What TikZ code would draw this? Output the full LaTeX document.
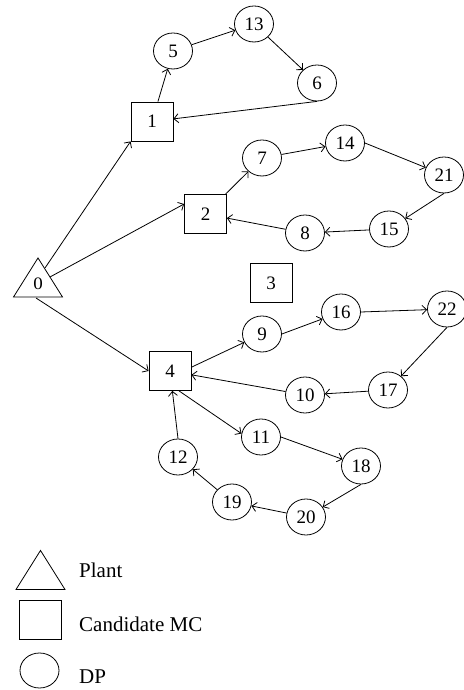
\documentclass[tikz,border=0pt]{standalone}
\usepackage{fontspec}
\setmainfont{Liberation Serif}
\usetikzlibrary{shapes.geometric,arrows.meta}
\tikzset{
  base/.style={draw, line width=0.8pt, inner sep=0pt, font=\fontsize{19}{19}\selectfont},
  dp/.style={base, ellipse, minimum width=39pt, minimum height=36pt},
  mc/.style={base, rectangle, minimum width=42pt, minimum height=39pt},
  plant/.style={base, regular polygon, regular polygon sides=3, minimum size=56.6pt, transform shape, yscale=0.92},
  arr/.style={line width=0.8pt, -{Straight Barb[length=4.5pt,width=9pt,line width=0.8pt]}},
  legtext/.style={anchor=base west, inner sep=0pt, font=\fontsize{21}{21}\selectfont}
}
\begin{document}
\begin{tikzpicture}[x=1pt,y=1pt]
\useasboundingbox (0,0) rectangle (463,690);
% plant
\begin{scope}[shift={(38,406)}]
  \node[plant] (t0) at (0,0) {0};
\end{scope}
% candidate MCs
\node[mc] (s1) at (152,568.5) {1};
\node[mc] (s2) at (205.5,476) {2};
\node[mc] (s3) at (271,407) {3};
\node[mc] (s4) at (170,319) {4};
% DPs
\node[dp] (c5)  at (173,639) {5};
\node[dp] (c13) at (254,666) {13};
\node[dp] (c6)  at (317,607) {6};
\node[dp] (c7)  at (262,532) {7};
\node[dp] (c14) at (345,547) {14};
\node[dp] (c21) at (444,515) {21};
\node[dp] (c8)  at (305,457) {8};
\node[dp] (c15) at (389,461) {15};
\node[dp] (c9)  at (262,356) {9};
\node[dp] (c16) at (341,378) {16};
\node[dp] (c22) at (447,381) {22};
\node[dp] (c17) at (388,300) {17};
\node[dp] (c10) at (305,295) {10};
\node[dp] (c11) at (261,253) {11};
\node[dp] (c18) at (361,224) {18};
\node[dp] (c12) at (178,233) {12};
\node[dp] (c19) at (232,188) {19};
\node[dp] (c20) at (306,173) {20};
% connectors
\draw[arr] ([shift={(7,16)}]t0.center) -- (s1.south west);
\draw[arr] ([shift={(12,7)}]t0.center) -- ([yshift=10]s2.west);
\draw[arr] ([shift={(-2,-14)}]t0.center) -- (s4.west);
\draw[arr] (s1) -- (c5);
\draw[arr] (c5) -- (c13);
\draw[arr] (c13) -- (c6);
\draw[arr] (c6.south) -- (s1);
\draw[arr] (s2) -- (c7);
\draw[arr] (c7) -- (c14);
\draw[arr] (c14.east) -- (c21);
\draw[arr] (c21.south) -- (c15);
\draw[arr] (c15) -- (c8);
\draw[arr] (c8) -- (s2);
\draw[arr] (s4.10) -- (c9);
\draw[arr] (c9.east) -- (c16);
\draw[arr] (c16.east) -- (c22);
\draw[arr] (c22.south) -- (c17);
\draw[arr] (c17) -- (c10);
\draw[arr] (c10) -- (s4);
\draw[arr] ([xshift=9]s4.south) -- (c11.170);
\draw[arr] (c11.east) -- (c18);
\draw[arr] (c18.south) -- (c20);
\draw[arr] (c20) -- (c19);
\draw[arr] (c19) -- (c12);
\draw[arr] (c12.north) -- (s4);
% legend
\begin{scope}[shift={(40.5,113.5)}]
  \node[plant] (lt) at (0,0) {};
\end{scope}
\node[mc] (ls) at (40.5,70) {};
\node[dp, minimum height=35pt] (lc) at (39.5,19.5) {};
\node[legtext] (lt1) at (79,112) {Plant};
\node[legtext] (lt2) at (79,58) {Candidate MC};
\node[legtext] (lt3) at (79,6) {DP};
\end{tikzpicture}
\end{document}
